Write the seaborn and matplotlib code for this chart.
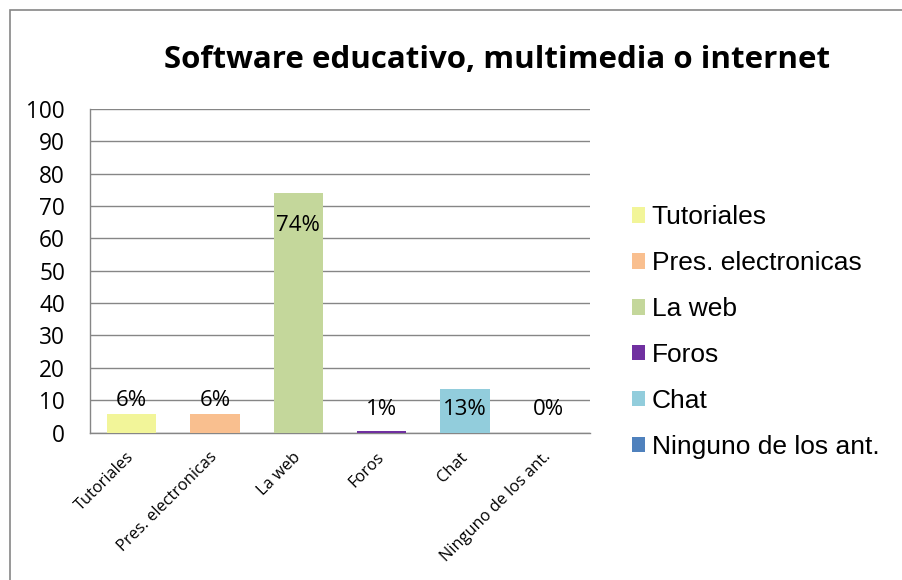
import numpy as np
import pandas as pd
import matplotlib
matplotlib.use("Agg")
import matplotlib.pyplot as plt
from matplotlib.patches import Rectangle
import seaborn as sns

# Data
categories = ['Tutoriales', 'Pres. electronicas', 'La web', 'Foros', 'Chat', 'Ninguno de los ant.']
values = [5.8, 5.8, 73.9, 0.6, 13.4, 0.0]
colors = ['#F2F599', '#F9BF8F', '#C4D79B', '#7030A0', '#92CDDC', '#4F81BD']

df = pd.DataFrame({'cat': categories, 'val': values})

sns.set_style('white')
plt.rcParams['font.family'] = ['Liberation Sans', 'DejaVu Sans']
plt.rcParams['text.color'] = 'black'
plt.rcParams['xtick.color'] = 'black'
plt.rcParams['ytick.color'] = 'black'
calibri_like = ['Open Sans', 'DejaVu Sans']

fig = plt.figure(figsize=(9.02, 5.8), dpi=100)
ax = fig.add_axes([90 / 902, 1 - 432.5 / 580, 500 / 902, 323.5 / 580])

# outer chart border (cut at right and bottom as in the original)
fig.patches.append(Rectangle((10 / 902, -0.1), 1.2, 1 - 10 / 580 + 0.1,
                             transform=fig.transFigure, fill=False,
                             edgecolor='#868686', linewidth=1.2))

sns.barplot(data=df, x='cat', y='val', hue='cat', palette=colors, saturation=1,
            width=0.59, legend=True, ax=ax, zorder=3, linewidth=0)

ax.set_ylim(0, 100)
ax.set_xlim(-0.5, len(categories) - 0.5)
ax.set_yticks(range(0, 101, 10))
ax.yaxis.grid(True, color='#868686', linewidth=1.0, zorder=0)
ax.set_axisbelow(True)
for s in ['top', 'right']:
    ax.spines[s].set_visible(False)
for s in ['left', 'bottom']:
    ax.spines[s].set_color('#868686')
    ax.spines[s].set_linewidth(1.0)
ax.tick_params(axis='y', length=0, pad=18)
ax.tick_params(axis='x', length=0, pad=16)
for t in ax.get_yticklabels():
    t.set_family(calibri_like)
    t.set_fontsize(16.3)
ax.set_xlabel('')
ax.set_ylabel('')
ax.set_xticks(range(len(categories)))
ax.set_xticklabels(categories, rotation=45, ha='right', va='center', rotation_mode='anchor',
                   fontsize=11.8, family=calibri_like)

# data labels (Excel placement)
label_y = [9.8, 9.8, 63.9, 7.0, 7.0, 7.0]
for i, v in enumerate(values):
    ax.text(i, label_y[i], f'{v:.0f}%', ha='center', va='center', fontsize=16,
            family=calibri_like, zorder=5)

handles, labels = ax.get_legend_handles_labels()
ax.legend(handles, labels, loc='center left', bbox_to_anchor=(1.084, 0.31),
          frameon=False, fontsize=19, handlelength=0.51, handleheight=0.51,
          handletextpad=0.23, labelspacing=0.83, borderaxespad=0, borderpad=0)

fig.text(0.551, 0.896, 'Software educativo, multimedia o internet', ha='center', va='center',
         fontsize=22.5, fontweight='bold', family=calibri_like)

fig.savefig('out.png', dpi=100)
